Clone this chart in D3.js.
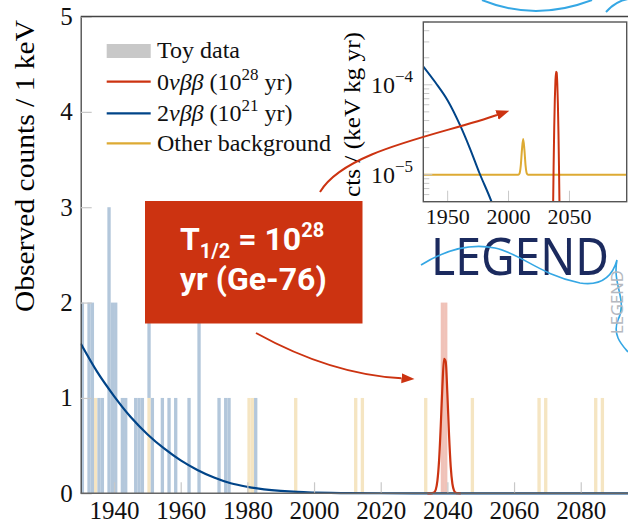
<!DOCTYPE html>
<html>
<head>
<meta charset="utf-8">
<script src="https://cdn.jsdelivr.net/npm/d3@7/dist/d3.min.js"></script>
<style>
  body { margin: 0; background: #fff; }
  svg { display: block; }
</style>
</head>
<body>
<svg id="chart" width="628" height="524"></svg>
<script>
// toy data, counts per 1 keV bin (bin start energy)
var otherBins = [1934, 1950, 1980, 1981, 1994, 2012, 2014, 2033, 2047, 2067, 2069, 2084, 2086];
var otherCounts = [1, 1, 1, 1, 1, 1, 1, 1, 1, 1, 1, 1, 1];
var twoNuBins = [1930, 1932, 1933, 1935, 1936, 1938, 1939, 1940, 1942, 1943, 1946, 1947, 1948, 1950, 1951, 1954, 1956, 1958, 1962, 1965, 1971, 1973, 1974, 1982];
var twoNuCounts = [2, 2, 2, 1, 1, 3, 2, 2, 1, 1, 1, 1, 1, 1, 1, 1, 1, 1, 1, 2, 1, 1, 1, 1];
var zeroNuBins = [2038, 2039];
var zeroNuCounts = [2, 2];

// expected counts / keV
var twoNuE = [1930, 1935, 1940, 1945, 1950, 1955, 1960, 1965, 1970, 1975, 1980, 1985, 1990, 1995, 2000, 2005, 2010, 2020, 2030, 2040, 2100];
var twoNuModel = [1.57, 1.27, 1.02, 0.80, 0.62, 0.47, 0.345, 0.245, 0.165, 0.105, 0.068, 0.042, 0.025, 0.014, 0.008, 0.004, 0.002, 0.0005, 0.0001, 0, 0];
var zeroNuE = [2034, 2035, 2036, 2036.5, 2037, 2037.5, 2038, 2038.5, 2039, 2039.5, 2040, 2040.5, 2041, 2041.5, 2042, 2042.5, 2043, 2044];
var zeroNuModel = [0, 0.0002, 0.009, 0.037, 0.13, 0.34, 0.70, 1.12, 1.41, 1.38, 1.04, 0.61, 0.28, 0.10, 0.028, 0.006, 0.001, 0];

// inset, cts / (keV kg yr)
var twoNuInsetE = [1930, 1940, 1950, 1960, 1968, 1976, 1986, 1996];
var twoNuInsetRate = [1.6e-4, 1.06e-4, 6.7e-5, 3.6e-5, 2.0e-5, 1.05e-5, 5e-6, 2e-6];
var zeroNuInsetE = [2035, 2036, 2036.5, 2037, 2037.5, 2038, 2038.5, 2039, 2039.5, 2040, 2040.5, 2041, 2041.5, 2042, 2042.5, 2043, 2044];
var zeroNuInsetRate = [2e-8, 8.5e-7, 3.7e-6, 1.27e-5, 3.4e-5, 7.0e-5, 1.12e-4, 1.40e-4, 1.37e-4, 1.04e-4, 6.1e-5, 2.8e-5, 1.0e-5, 2.8e-6, 6e-7, 1e-7, 2e-9];
var bkgInsetE = [1930, 2008, 2009, 2010, 2011, 2012, 2013, 2014, 2015, 2016, 2097];
var bkgInsetRate = [1e-5, 1e-5, 1.03e-5, 1.25e-5, 1.9e-5, 2.5e-5, 1.9e-5, 1.25e-5, 1.03e-5, 1e-5, 1e-5];

var xTicks = [1940, 1960, 1980, 2000, 2020, 2040, 2060, 2080];
var yTicks = [0, 1, 2, 3, 4, 5];
var insetXTicks = [1950, 2000, 2050];
var insetYTicks = [1e-5, 1e-4];

var red = "#cc3311", blue = "#004488", yellow = "#ddaa33";
var serif = "'Liberation Serif', 'Times New Roman', serif";

var svg = d3.select("#chart");
var defs = svg.append("defs");

var x = d3.scaleLinear().domain([1930, 2100]).range([80.7, 647.4]);
var y = d3.scaleLinear().domain([0, 5]).range([493.3, 16.5]);

defs.append("clipPath").attr("id", "plotclip")
  .append("rect").attr("x", 80.7).attr("y", 16.5).attr("width", 560).attr("height", 478.5);

var plot = svg.append("g").attr("clip-path", "url(#plotclip)");

// stacked histogram: other bkg, then 2nbb, then 0nbb
var otherMap = {}, twoNuMap = {};
otherBins.forEach(function(b, i) { otherMap[b] = otherCounts[i]; });
twoNuBins.forEach(function(b, i) { twoNuMap[b] = twoNuCounts[i]; });
var bars = [];
otherBins.forEach(function(b, i) {
  bars.push({ e: b, y0: 0, y1: otherCounts[i], fill: "#f5e5c2" });
});
twoNuBins.forEach(function(b, i) {
  var base = otherMap[b] || 0;
  bars.push({ e: b, y0: base, y1: base + twoNuCounts[i], fill: "#b3c7db" });
});
zeroNuBins.forEach(function(b, i) {
  var base = (otherMap[b] || 0) + (twoNuMap[b] || 0);
  bars.push({ e: b, y0: base, y1: base + zeroNuCounts[i], fill: "#f0c2b8" });
});

plot.selectAll(".bar")
  .data(bars)
  .enter().append("rect")
  .attr("class", "bar")
  .attr("x", function(d) { return x(d.e); })
  .attr("width", function(d) { return x(d.e + 1) - x(d.e); })
  .attr("y", function(d) { return y(d.y1); })
  .attr("height", function(d) { return y(d.y0) - y(d.y1); })
  .attr("fill", function(d) { return d.fill; });

var line = d3.line()
  .x(function(d) { return x(d[0]); })
  .y(function(d) { return y(d[1]); })
  .curve(d3.curveMonotoneX);

plot.append("path")
  .attr("d", line(d3.zip(twoNuE, twoNuModel)))
  .attr("fill", "none").attr("stroke", blue).attr("stroke-width", 2.2);
plot.append("path")
  .attr("d", line(d3.zip(zeroNuE, zeroNuModel)))
  .attr("fill", "none").attr("stroke", red).attr("stroke-width", 2.2);

// axes
var xAxis = svg.append("g")
  .attr("transform", "translate(0," + y(0) + ")")
  .call(d3.axisBottom(x).tickValues(xTicks).tickFormat(d3.format("d"))
    .tickSizeInner(-11).tickSizeOuter(0).tickPadding(8));
var yAxis = svg.append("g")
  .attr("transform", "translate(" + x(1930) + ",0)")
  .call(d3.axisLeft(y).tickValues(yTicks).tickFormat(d3.format("d"))
    .tickSizeInner(-11).tickSizeOuter(0).tickPadding(8));
[xAxis, yAxis].forEach(function(a) {
  a.attr("font-family", serif).attr("font-size", 25);
  a.select(".domain").attr("stroke", "#444").attr("stroke-width", 1.3);
  a.selectAll(".tick line").attr("stroke", "#c8c8c8").attr("stroke-width", 1.2);
  a.selectAll(".tick text").attr("fill", "#111");
});
xAxis.select(".domain").remove();
svg.append("line").attr("x1", x(1930)).attr("x2", 628).attr("y1", y(0)).attr("y2", y(0))
  .attr("stroke", "#666").attr("stroke-width", 1.6);
svg.append("line").attr("x1", x(1930)).attr("x2", 628).attr("y1", y(5)).attr("y2", y(5))
  .attr("stroke", "#444").attr("stroke-width", 1.3);

// y label
svg.append("text")
  .attr("transform", "translate(34,166) rotate(-90)")
  .attr("text-anchor", "middle")
  .attr("font-family", serif).attr("font-size", 27)
  .attr("textLength", 292).attr("lengthAdjust", "spacingAndGlyphs")
  .text("Observed counts / 1 keV");

// legend
var leg = svg.append("g").attr("font-family", serif).attr("font-size", 24).attr("fill", "#111");
leg.append("rect").attr("x", 106.7).attr("y", 44).attr("width", 44).attr("height", 14).attr("fill", "#c8c8c8");
leg.append("text").attr("x", 157).attr("y", 58).text("Toy data");
var legRows = [
  { y: 81.7, color: red, pre: "0", exp: "28" },
  { y: 113.3, color: blue, pre: "2", exp: "21" }
];
legRows.forEach(function(r) {
  leg.append("line").attr("x1", 106.7).attr("x2", 150.7).attr("y1", r.y).attr("y2", r.y)
    .attr("stroke", r.color).attr("stroke-width", 2.2);
  var t = leg.append("text").attr("x", 157).attr("y", r.y + 8);
  t.append("tspan").text(r.pre);
  t.append("tspan").attr("font-style", "italic").text("\u03bd\u03b2\u03b2");
  t.append("tspan").text(" (10");
  t.append("tspan").attr("font-size", 17).attr("dy", -10).text(r.exp);
  t.append("tspan").attr("dy", 10).text(" yr)");
});
leg.append("line").attr("x1", 106.7).attr("x2", 150.7).attr("y1", 143.3).attr("y2", 143.3)
  .attr("stroke", yellow).attr("stroke-width", 2.2);
leg.append("text").attr("x", 157).attr("y", 151).text("Other background");

// half-life box
svg.append("rect").attr("x", 145).attr("y", 201).attr("width", 217.5).attr("height", 122.5).attr("fill", red);
var bt = svg.append("g").attr("font-family", "Roboto, 'Open Sans', sans-serif")
  .attr("font-weight", 700).attr("fill", "#fff");
var t1 = bt.append("text").attr("x", 180).attr("y", 250).attr("font-size", 32);
t1.append("tspan").text("T");
t1.append("tspan").attr("font-size", 20).attr("dy", 8).text("1/2");
t1.append("tspan").attr("dy", -8).text(" = 10");
t1.append("tspan").attr("font-size", 20).attr("dy", -13).text("28");
bt.append("text").attr("x", 180).attr("y", 290).attr("font-size", 32).text("yr (Ge-76)");

// arrows
defs.append("marker").attr("id", "head")
  .attr("markerUnits", "userSpaceOnUse")
  .attr("markerWidth", 14).attr("markerHeight", 12)
  .attr("refX", 0).attr("refY", 6).attr("orient", "auto")
  .append("path").attr("d", "M0,1 L13,6 L0,11 Z").attr("fill", red);

svg.append("path")
  .attr("d", "M256,333 Q331,374.5 401.5,378.3")
  .attr("fill", "none").attr("stroke", red).attr("stroke-width", 2)
  .attr("marker-end", "url(#head)");

// inset
var xi = d3.scaleLinear().domain([1930, 2097]).range([423.3, 626.7]);
var yi = d3.scaleLog().domain([5e-6, 5e-4]).range([201.7, 22]);

var inset = svg.append("g");
inset.append("rect").attr("x", 423.3).attr("y", 22).attr("width", 203.4).attr("height", 179.7).attr("fill", "#fff");

defs.append("clipPath").attr("id", "insetclip")
  .append("rect").attr("x", 423.3).attr("y", 22).attr("width", 203.4).attr("height", 179.7);
var ip = inset.append("g").attr("clip-path", "url(#insetclip)");

var lineI = d3.line()
  .x(function(d) { return xi(d[0]); })
  .y(function(d) { return yi(d[1]); })
  .curve(d3.curveMonotoneX);

ip.append("path").attr("d", lineI(d3.zip(bkgInsetE, bkgInsetRate)))
  .attr("fill", "none").attr("stroke", yellow).attr("stroke-width", 2);
ip.append("path").attr("d", lineI(d3.zip(twoNuInsetE, twoNuInsetRate)))
  .attr("fill", "none").attr("stroke", blue).attr("stroke-width", 2);
ip.append("path").attr("d", lineI(d3.zip(zeroNuInsetE, zeroNuInsetRate)))
  .attr("fill", "none").attr("stroke", red).attr("stroke-width", 2);

// inset ticks
yi.ticks().forEach(function(v) {
  var major = insetYTicks.indexOf(v) >= 0;
  inset.append("line").attr("x1", 423.3).attr("x2", 423.3 + (major ? 9 : 6))
    .attr("y1", yi(v)).attr("y2", yi(v))
    .attr("stroke", "#c8c8c8").attr("stroke-width", 1);
});
insetXTicks.forEach(function(v) {
  inset.append("line").attr("x1", xi(v)).attr("x2", xi(v)).attr("y1", 201.7).attr("y2", 190.7)
    .attr("stroke", "#c8c8c8").attr("stroke-width", 1);
  inset.append("text").attr("x", xi(v)).attr("y", 224).attr("text-anchor", "middle")
    .attr("font-family", serif).attr("font-size", 22).attr("fill", "#111").text(v);
});
insetYTicks.forEach(function(v) {
  var t = inset.append("text").attr("x", 413).attr("y", yi(v) + 8.5).attr("text-anchor", "end")
    .attr("font-family", serif).attr("font-size", 24).attr("fill", "#111");
  t.append("tspan").text("10");
  t.append("tspan").attr("font-size", 17).attr("dy", -11).text("\u2212" + Math.round(-Math.log10(v)));
});
inset.append("rect").attr("x", 423.3).attr("y", 22).attr("width", 203.4).attr("height", 179.7)
  .attr("fill", "none").attr("stroke", "#555").attr("stroke-width", 1.4);

inset.append("text")
  .attr("transform", "translate(360,114.5) rotate(-90)")
  .attr("text-anchor", "middle")
  .attr("font-family", serif).attr("font-size", 23)
  .attr("textLength", 165).attr("lengthAdjust", "spacingAndGlyphs")
  .text("cts / (keV kg yr)");

svg.append("path")
  .attr("d", "M320,192 C345,150 440,135 497,115")
  .attr("fill", "none").attr("stroke", red).attr("stroke-width", 2)
  .attr("marker-end", "url(#head)");

// LEGEND logo
var logo = svg.append("g");
logo.append("text").attr("x", 431).attr("y", 275)
  .attr("font-family", "'Noto Sans', Roboto, sans-serif").attr("font-size", 51).attr("font-weight", 400)
  .attr("fill", "#1b2a5e").attr("textLength", 178).attr("lengthAdjust", "spacingAndGlyphs")
  .text("LEGEND");
logo.append("path")
  .attr("d", "M421,265 C445,250 470,243 495,248 C520,253 540,275 580,283 C600,286 612,278 617,260 C612,285 628,300 618,320 C612,335 622,345 628,352")
  .attr("fill", "none").attr("stroke", "#35a7e4").attr("stroke-width", 1.6);
logo.append("text")
  .attr("transform", "translate(623,302) rotate(-90)")
  .attr("text-anchor", "middle")
  .attr("font-family", "'Noto Sans', sans-serif").attr("font-size", 17)
  .attr("fill", "#b5b9c0").attr("textLength", 64).attr("lengthAdjust", "spacingAndGlyphs")
  .text("LEGEND");
logo.append("path").attr("d", "M482,0 Q535,22 592,0")
  .attr("fill", "none").attr("stroke", "#35a7e4").attr("stroke-width", 2);
logo.append("path").attr("d", "M606,12 Q616,1 628,-1")
  .attr("fill", "none").attr("stroke", "#35a7e4").attr("stroke-width", 2);
</script>
</body>
</html>
